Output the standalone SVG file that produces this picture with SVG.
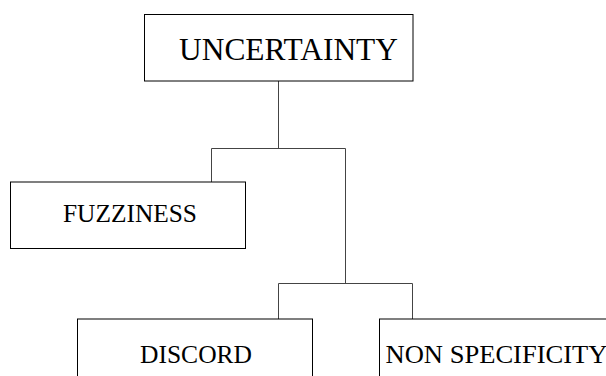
<svg xmlns="http://www.w3.org/2000/svg" width="606" height="376" viewBox="0 0 606 376">
<style>
.box{fill:#fff;stroke:#000;stroke-width:1}
.lbl{font-family:"Liberation Serif","DejaVu Serif",serif;fill:#000}
.big{font-size:31px}
.sm{font-size:25.5px}
.conn{fill:none;stroke:#444;stroke-width:1}
</style>
<rect width="606" height="376" fill="#fff"/>
<g id="connectors">
<path class="conn" d="M278.5,81 V148.5 M211.5,148.5 H345.5 M211.5,148.5 V182 M345.5,148.5 V283.5 M278.5,283.5 H412.5 M278.5,283.5 V319 M412.5,283.5 V319"/>
</g>
<g id="uncertainty">
<rect class="box" x="144.5" y="14.5" width="268.5" height="66.5"/>
<text class="lbl big" x="179" y="60" textLength="219" lengthAdjust="spacingAndGlyphs">UNCERTAINTY</text>
</g>
<g id="fuzziness">
<rect class="box" x="10.5" y="182" width="235" height="66.5"/>
<text class="lbl sm" x="63" y="221.5" textLength="134" lengthAdjust="spacingAndGlyphs">FUZZINESS</text>
</g>
<g id="discord">
<rect class="box" x="77.5" y="319" width="235" height="67"/>
<text class="lbl sm" x="140" y="363" textLength="112" lengthAdjust="spacingAndGlyphs">DISCORD</text>
</g>
<g id="nonspecificity">
<rect class="box" x="379.5" y="319" width="235" height="67"/>
<text class="lbl sm" x="385.5" y="363" textLength="222" lengthAdjust="spacingAndGlyphs">NON SPECIFICITY</text>
</g>
</svg>
